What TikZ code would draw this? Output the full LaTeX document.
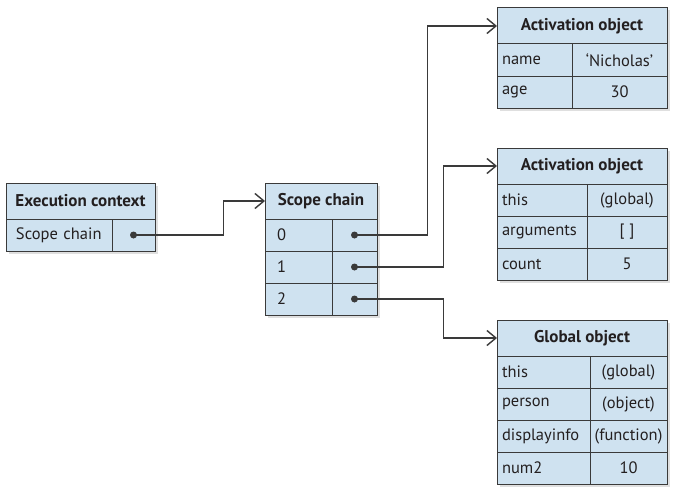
\documentclass[tikz,border=0pt]{standalone}
\usepackage{fontspec}
\setmainfont{PT Sans}
\usepackage{xcolor}
\usepackage{tikz}
\usetikzlibrary{arrows.meta,shadows}

\definecolor{cellblue}{HTML}{CFE2F0}
\definecolor{linegray}{HTML}{3A3A3A}
\definecolor{txtgray}{HTML}{231F20}

\begin{document}
\begin{tikzpicture}[
    x                 = 1pt,
    y                 = -1pt,
    every node/.style = {font=\fontsize{16.5}{18}\selectfont, text=txtgray},
    cell/.style       = {draw=linegray, fill=cellblue, line width=1pt, anchor=north west,
                         inner ysep=0pt, outer sep=0pt, minimum height=32pt,
                         drop shadow={shadow xshift=2.5pt, shadow yshift=-2.5pt, opacity=.25}},
    head/.style       = {cell, minimum width=#1, minimum height=36pt, inner xsep=0pt,
                         font=\fontsize{17}{18}\selectfont\bfseries},
    key/.style 2 args = {cell, inner xsep=#2, text width=#1-2*#2, align=left},
    val/.style        = {cell, inner xsep=0pt, text width=#1, align=center},
    dot/.style        = {circle, fill=linegray, inner sep=0pt, minimum size=7pt},
    link/.style       = {draw=linegray, line width=1.4pt, -{Straight Barb[length=9pt,width=15pt]}}
  ]
\useasboundingbox (0,0) rectangle (679,495);

% execution context
\node[head=149pt] (ec) at (6,183) {Execution context};
\node[key={106pt}{10pt}] (ec-k) at (ec.south west) {\mbox{Scope chain}};
\node[val=43pt] (ec-v) at (ec-k.north east) {};
\node[dot] (ec-dot) at (ec-v) {};

% scope chain
\node[head=112pt] (sc) at (265,183) {Scope chain};
\node[key={67pt}{12pt}] (sc-k0) at (sc.south west) {0};
\node[val=45pt] (sc-v0) at (sc-k0.north east) {};
\node[key={67pt}{12pt}] (sc-k1) at (sc-k0.south west) {1};
\node[val=45pt] (sc-v1) at (sc-k1.north east) {};
\node[key={67pt}{12pt}] (sc-k2) at (sc-k1.south west) {2};
\node[val=45pt] (sc-v2) at (sc-k2.north east) {};
\node[dot] (sc-d0) at (sc-v0) {};
\node[dot] (sc-d1) at (sc-v1) {};
\node[dot] (sc-d2) at (sc-v2) {};

% first activation object
\node[head=170pt] (ao1) at (497,8) {Activation object};
\node[key={75pt}{5pt}] (ao1-k1) at (ao1.south west) {name};
\node[val=95pt] (ao1-v1) at (ao1-k1.north east) {`Nicholas'};
\node[key={75pt}{5pt}] (ao1-k2) at (ao1-k1.south west) {age};
\node[val=95pt] (ao1-v2) at (ao1-k2.north east) {30};

% second activation object
\node[head=170pt] (ao2) at (497,148) {Activation object};
\node[key={90pt}{5pt}] (ao2-k1) at (ao2.south west) {this};
\node[val=80pt] (ao2-v1) at (ao2-k1.north east) {(global)};
\node[key={90pt}{5pt}] (ao2-k2) at (ao2-k1.south west) {arguments};
\node[val=80pt] (ao2-v2) at (ao2-k2.north east) {[\;]};
\node[key={90pt}{5pt}] (ao2-k3) at (ao2-k2.south west) {count};
\node[val=80pt] (ao2-v3) at (ao2-k3.north east) {5};

% global object
\node[head=170pt] (go) at (497,320) {Global object};
\node[key={93pt}{5pt}] (go-k1) at (go.south west) {this};
\node[val=77pt] (go-v1) at (go-k1.north east) {(global)};
\node[key={93pt}{5pt}] (go-k2) at (go-k1.south west) {person};
\node[val=77pt] (go-v2) at (go-k2.north east) {(object)};
\node[key={93pt}{5pt}] (go-k3) at (go-k2.south west) {displayinfo};
\node[val=77pt] (go-v3) at (go-k3.north east) {(function)};
\node[key={93pt}{5pt}] (go-k4) at (go-k3.south west) {num2};
\node[val=77pt] (go-v4) at (go-k4.north east) {10};

% pointers
\draw[link] (ec-dot.center) -- ++(90,0) |- (sc.west);
\draw[link] (sc-d0.center) -- ++(73,0) |- (ao1.west);
\draw[link] (sc-d1.center) -- ++(89,0) |- (ao2.west);
\draw[link] (sc-d2.center) -- ++(89,0) |- (go.west);
\end{tikzpicture}
\end{document}
